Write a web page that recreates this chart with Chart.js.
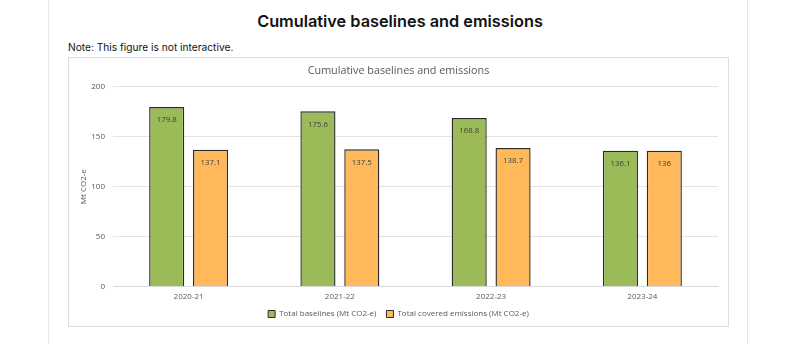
<!DOCTYPE html>
<html>
<head>
<meta charset="utf-8">
<script src="https://cdn.jsdelivr.net/npm/chart.js@4.4.1/dist/chart.umd.min.js"></script>
<style>
  html, body { margin: 0; padding: 0; background: #fff; }
  body { width: 800px; height: 344px; position: relative; overflow: hidden; font-family: "Inter", "Open Sans", sans-serif; }
  .page { position: absolute; left: 48px; top: 0; width: 700px; height: 344px; border-left: 1px solid #e6e6e6; border-right: 1px solid #e6e6e6; box-sizing: border-box; }
  h1 { position: absolute; left: 0; top: 11px; width: 800px; margin: 0; text-align: center; font-size: 16.3px; font-weight: 600; color: #111; }
  .note { position: absolute; left: 68px; top: 41px; font-size: 10.2px; color: #111; }
  .box { position: absolute; left: 68px; top: 57px; width: 661px; height: 270px; border: 1px solid #dedede; box-sizing: border-box; }
  canvas { display: block; }
</style>
</head>
<body>
<div class="page"></div>
<h1>Cumulative baselines and emissions</h1>
<div class="note">Note: This figure is not interactive.</div>
<div class="box"><canvas id="c" width="659" height="268"></canvas></div>
<script>
const categories = ["2020-21", "2021-22", "2022-23", "2023-24"];
const totalBaselines = [179.8, 175.6, 168.8, 136.1];
const coveredEmissions = [137.1, 137.5, 138.7, 136];
const yTicks = [0, 50, 100, 150, 200];

const chartFont = "'Open Sans', 'Noto Sans', sans-serif";
const textGray = "#595959";

// Writes each bar's value just inside its top edge
const valueLabels = {
  id: "valueLabels",
  afterDatasetsDraw(chart) {
    const ctx = chart.ctx;
    ctx.save();
    ctx.font = "7.8px " + chartFont;
    ctx.fillStyle = "#404040";
    ctx.textAlign = "center";
    ctx.textBaseline = "middle";
    chart.data.datasets.forEach((ds, i) => {
      chart.getDatasetMeta(i).data.forEach((bar, j) => {
        ctx.fillText(String(ds.data[j]), bar.x, bar.y + 13);
      });
    });
    ctx.restore();
  }
};

new Chart(document.getElementById("c"), {
  type: "bar",
  data: {
    labels: categories,
    datasets: [
      { label: "Total baselines (Mt CO2-e)", data: totalBaselines, backgroundColor: "#9bbb59", borderColor: "#2b2b2b", borderWidth: 1.4 },
      { label: "Total covered emissions (Mt CO2-e)", data: coveredEmissions, backgroundColor: "#ffb95a", borderColor: "#2b2b2b", borderWidth: 1.4 }
    ]
  },
  options: {
    responsive: false,
    animation: false,
    devicePixelRatio: 1,
    categoryPercentage: 0.58,
    barPercentage: 0.8,
    layout: { padding: { left: 10, right: 10, top: 4, bottom: -2 } },
    plugins: {
      title: {
        display: true,
        text: "Cumulative baselines and emissions",
        color: textGray,
        font: { family: chartFont, size: 10.8, weight: "normal" },
        padding: { top: 2, bottom: 10 }
      },
      legend: {
        position: "bottom",
        labels: {
          boxWidth: 7, boxHeight: 7, padding: 10, color: textGray,
          font: { family: chartFont, size: 8 },
          generateLabels(chart) {
            return chart.data.datasets.map((ds, i) => ({
              text: ds.label, fillStyle: ds.backgroundColor, strokeStyle: "#2b2b2b", lineWidth: 1, datasetIndex: i, fontColor: textGray
            }));
          }
        }
      },
      tooltip: { enabled: false }
    },
    scales: {
      x: {
        afterFit(scale) { scale.height -= 8; },
        grid: { display: false, drawTicks: false },
        border: { color: "#d9d9d9" },
        ticks: { color: textGray, font: { family: chartFont, size: 8 }, padding: 6 }
      },
      y: {
        min: 0, max: 200,
        afterBuildTicks(scale) { scale.ticks = yTicks.map(v => ({ value: v })); },
        afterFit(scale) { scale.width = 34; },
        grid: { color: "#e3e3e3", drawTicks: false },
        border: { display: false },
        ticks: { color: textGray, font: { family: chartFont, size: 8 }, padding: 8 },
        title: { display: true, text: "Mt CO2-e", color: textGray, font: { family: chartFont, size: 8 }, padding: 0 }
      }
    }
  },
  plugins: [valueLabels]
});
</script>
</body>
</html>
